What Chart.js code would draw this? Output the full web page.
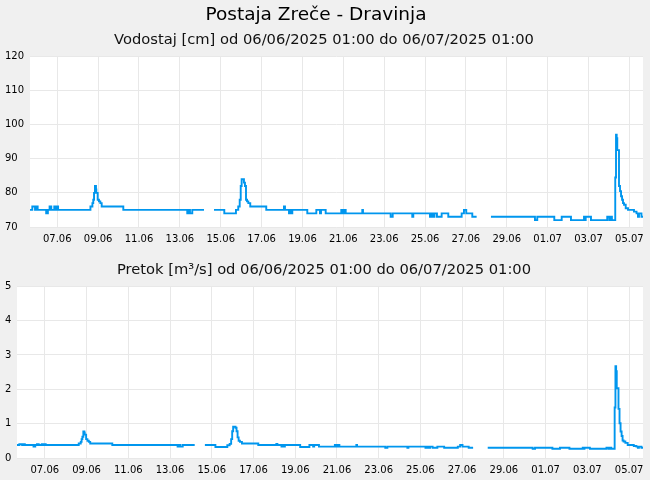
<!DOCTYPE html>
<html>
<head>
<meta charset="utf-8">
<script src="https://cdn.jsdelivr.net/npm/chart.js@4.4.1/dist/chart.umd.min.js"></script>
<style>
  html, body { margin: 0; padding: 0; background: #f0f0f0; width: 650px; height: 480px; overflow: hidden; }
  #title { position: absolute; left: 0; top: 3px; width: 632px; text-align: center;
           font-family: "DejaVu Sans", sans-serif; font-size: 18.5px; line-height: 22px; color: #000; }
  #w1 { position: absolute; left: 0; top: 0; width: 650px; height: 250px; }
  #w2 { position: absolute; left: 0; top: 250px; width: 650px; height: 230px; }
</style>
</head>
<body>
<div id="w1"><canvas id="c1" width="650" height="250"></canvas></div>
<div id="w2"><canvas id="c2" width="650" height="230"></canvas></div>
<div id="title">Postaja Zreče - Dravinja</div>
<script>
// ---- data (hours from axis start; step changes) ----
const mainTitle = "Postaja Zreče - Dravinja";
const levelTitle = "Vodostaj [cm] od 06/06/2025 01:00 do 06/07/2025 01:00";
const flowTitle = "Pretok [m³/s] od 06/06/2025 01:00 do 06/07/2025 01:00";

const tickHours = [32, 80, 128, 176, 224, 272, 320, 368, 416, 464, 512, 560, 608, 656, 704];
const tickLabels = ["07.06", "09.06", "11.06", "13.06", "15.06", "17.06", "19.06", "21.06",
                    "23.06", "25.06", "27.06", "29.06", "01.07", "03.07", "05.07"];

const times = [
  0, 2.7, 5.9, 7, 9, 19, 21, 23, 25, 28.5, 30, 31, 33,
  71, 73.3, 74.3, 75.2, 76.3, 77.5, 77.9, 79.5, 81, 82.6, 84.2,
  109.6, 184.7, 186.7, 187.9, 190.6, 204.4, 205,
  216.1, 228.2, 241.9, 244.6, 246.3, 247.5, 248.6, 251.3, 252.5, 253.7, 254.9, 256.4, 258.7,
  277.5, 298.3, 299.5, 304.2, 305.4, 306.5, 308.1, 325.7, 336.3, 340.6, 341.8, 347.3,
  365.6, 367.6, 368.8, 370.8, 390.3, 391.1, 423.6, 426, 449, 450.2, 469.8, 471.8, 473.7,
  475.1, 478, 483.5, 491.3, 507, 509.7, 512.4, 519.5, 524.6, 525.2,
  541.4, 593.1, 595.8, 615.8, 624.5, 635.4, 650.7, 651.8, 652.7, 658.9, 678, 680.4, 681.5,
  683.5, 687.4, 688.3, 689.1, 689.8, 691.8, 693, 694.2, 695.4, 696.5, 697.7, 699.7,
  702.4, 709.4, 712.4, 714.1, 715.3, 718.2, 720
];

const levels = [
  75, 76, 75, 76, 75, 74, 75, 76, 75, 76, 75, 76, 75,
  76, 77, 78, 80, 82, 81, 80, 78, 77.5, 77, 76,
  75, 74, 75, 74, 75, 75, null,
  75, 74, 75, 76, 78, 82, 84, 83, 82, 78, 77.5, 77, 76,
  75, 76, 75, 74, 75, 74, 75, 74, 75, 74, 75, 74,
  75, 74, 75, 74, 75, 74, 73, 74, 73, 74, 73, 74, 73,
  74, 73, 74, 73, 74, 75, 74, 73, 73, null,
  73, 72, 73, 72, 73, 72, 73, 72, 73, 72, 73, 72, 73,
  72, 84.5, 97, 96, 92.5, 82, 80.5, 79, 78, 77, 76.5, 75.5,
  75, 74.5, 74, 73, 74, 73, 73
];

const flows = [
  0.38, 0.40, 0.38, 0.40, 0.38, 0.33, 0.38, 0.40, 0.38, 0.40, 0.38, 0.40, 0.38,
  0.42, 0.47, 0.55, 0.62, 0.77, 0.74, 0.68, 0.55, 0.50, 0.47, 0.42,
  0.38, 0.33, 0.38, 0.33, 0.38, 0.38, null,
  0.38, 0.32, 0.37, 0.41, 0.55, 0.78, 0.91, 0.88, 0.78, 0.60, 0.50, 0.47, 0.42,
  0.38, 0.41, 0.38, 0.33, 0.38, 0.33, 0.38, 0.32, 0.38, 0.33, 0.38, 0.33,
  0.38, 0.33, 0.38, 0.33, 0.38, 0.33, 0.30, 0.33, 0.30, 0.33, 0.30, 0.33, 0.30,
  0.33, 0.30, 0.33, 0.30, 0.33, 0.38, 0.33, 0.30, 0.30, null,
  0.30, 0.27, 0.30, 0.27, 0.30, 0.27, 0.30, 0.27, 0.30, 0.27, 0.30, 0.27, 0.30,
  0.27, 1.47, 2.67, 2.53, 2.03, 1.43, 1.01, 0.77, 0.64, 0.51, 0.48, 0.44,
  0.38, 0.35, 0.33, 0.30, 0.33, 0.30, 0.30
];

const levelTicks = [70, 80, 90, 100, 110, 120];
const flowTicks = [0, 1, 2, 3, 4, 5];

// ---- chart setup ----
const FONT = "'DejaVu Sans', sans-serif";
const LINE = '#0096ee';
const GRID = '#e8e8e8';

const whiteArea = {
  id: 'whiteArea',
  beforeDraw(chart) {
    const a = chart.chartArea, ctx = chart.ctx;
    ctx.save();
    ctx.fillStyle = '#ffffff';
    ctx.fillRect(a.left, a.top, a.right - a.left, a.bottom - a.top);
    ctx.restore();
  }
};

function makeChart(id, title, values, yTicks, yWidth, padTop, xHeight) {
  const pts = times.map((t, i) => ({ x: t, y: values[i] }));
  return new Chart(document.getElementById(id), {
    type: 'line',
    data: { datasets: [{ data: pts, borderColor: LINE, borderWidth: 1.9, pointRadius: 0,
                         stepped: true, fill: false, spanGaps: false, tension: 0 }] },
    options: {
      responsive: false, animation: false, devicePixelRatio: 1,
      layout: { padding: { left: 5, right: 7, top: padTop, bottom: 0 } },
      plugins: {
        legend: { display: false }, tooltip: { enabled: false },
        title: { display: true, text: title, color: '#111',
                 font: { family: FONT, size: 14.7, weight: 'normal' },
                 padding: { top: 0, bottom: 7.4 } }
      },
      scales: {
        x: {
          type: 'linear', min: 0, max: 720,
          grid: { color: GRID, drawTicks: false, lineWidth: 1 },
          border: { display: false },
          afterBuildTicks: s => { s.ticks = tickHours.map(v => ({ value: v })); },
          afterFit: s => { s.height = xHeight; },
          ticks: { autoSkip: false, maxRotation: 0, padding: 6, color: '#000',
                   font: { family: FONT, size: 10 },
                   callback: (v, i) => tickLabels[i] }
        },
        y: {
          min: yTicks[0], max: yTicks[yTicks.length - 1],
          grid: { color: GRID, drawTicks: false, lineWidth: 1 },
          border: { display: false },
          afterBuildTicks: s => { s.ticks = yTicks.map(v => ({ value: v })); },
          afterFit: s => { s.width = yWidth; },
          ticks: { crossAlign: 'far', padding: 0, color: '#000',
                   font: { family: FONT, size: 10 } }
        }
      }
    },
    plugins: [whiteArea]
  });
}

makeChart('c1', levelTitle, levels, levelTicks, 25, 31.2, 23);
makeChart('c2', flowTitle, flows, flowTicks, 12, 11.2, 22);
</script>
</body>
</html>
